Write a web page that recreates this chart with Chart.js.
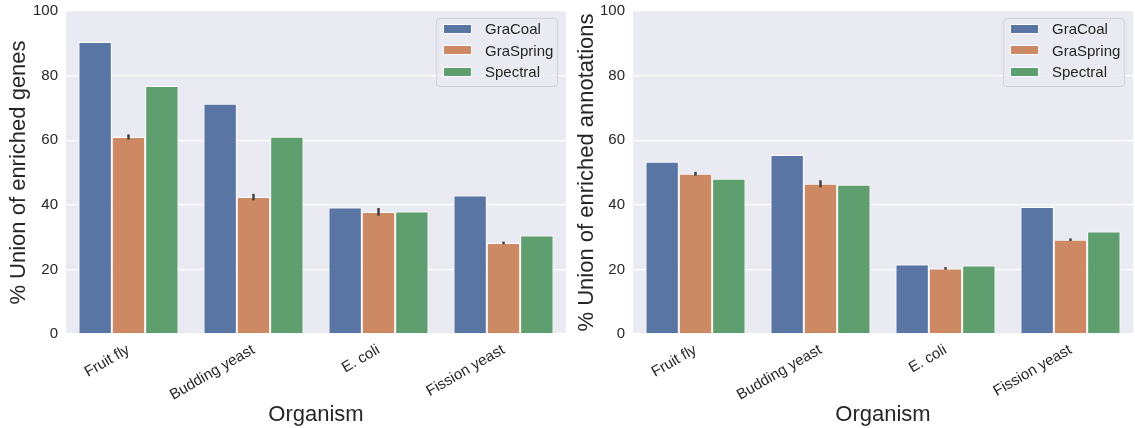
<!DOCTYPE html>
<html><head><meta charset="utf-8">
<script src="https://cdn.jsdelivr.net/npm/chart.js@4.4.0/dist/chart.umd.min.js"></script>
<style>
html,body{margin:0;padding:0;background:#fff;width:1135px;height:428px;overflow:hidden;font-family:"Liberation Sans",Arial,sans-serif;}
.wrap{position:absolute;top:0;height:428px;}
#w1{left:0;width:570px}
#w2{left:570px;width:565px}
.legend{position:absolute;background:rgba(234,234,242,0.8);border:1px solid #d2d2d8;border-radius:4px;box-sizing:border-box;width:122px;height:69px;}
.row{position:absolute;left:6px;height:22px;display:flex;align-items:center;font-size:15px;color:#262626;white-space:nowrap;}
.sw{width:29px;height:10px;box-sizing:border-box;border:1px solid #fff;margin-right:13px;}
</style>
</head><body>
<div class="wrap" id="w1"><canvas id="c1" width="570" height="428"></canvas></div>
<div class="wrap" id="w2"><canvas id="c2" width="565" height="428"></canvas></div>
<script>
const categories = ["Fruit fly", "Budding yeast", "E. coli", "Fission yeast"];
const methods = ["GraCoal", "GraSpring", "Spectral"];
const methodColors = ["#5975a4", "#cc8963", "#5f9e6e"];

const genesGraCoal   = [90.4, 71.3, 39.2, 42.9];
const genesGraSpring = [61.0, 42.4, 37.8, 28.2];
const genesSpectral  = [76.8, 61.1, 37.9, 30.5];
const genesGraSpringErr = [0.8, 1.0, 1.2, 0.4];

const annotGraCoal   = [53.3, 55.4, 21.5, 39.3];
const annotGraSpring = [49.6, 46.5, 20.3, 29.2];
const annotSpectral  = [48.1, 46.2, 21.2, 31.7];
const annotGraSpringErr = [0.6, 1.1, 0.4, 0.4];

const yTicks = [0, 20, 40, 60, 80, 100];

Chart.defaults.font.family = "'Liberation Sans', Arial, sans-serif";
Chart.defaults.color = '#262626';

const bgPlugin = {
  id: 'bg',
  beforeDraw(chart) {
    const {ctx, chartArea: a} = chart;
    ctx.save();
    ctx.fillStyle = '#eaeaf2';
    ctx.fillRect(a.left, a.top, a.right - a.left, a.bottom - a.top);
    ctx.restore();
  }
};

const errPlugin = {
  id: 'err',
  afterDatasetsDraw(chart) {
    const {ctx} = chart;
    const ys = chart.scales.y;
    chart.data.datasets.forEach((ds, i) => {
      if (!ds.err) return;
      const meta = chart.getDatasetMeta(i);
      meta.data.forEach((bar, j) => {
        const v = ds.data[j], e = ds.err[j];
        ctx.save();
        ctx.strokeStyle = '#424242';
        ctx.lineWidth = 2.5;
        ctx.beginPath();
        ctx.moveTo(bar.x, ys.getPixelForValue(v - e));
        ctx.lineTo(bar.x, ys.getPixelForValue(v + e));
        ctx.stroke();
        ctx.restore();
      });
    });
  }
};

function makeChart(canvasId, wrapId, yTitle, vals, errs, yWidth, padRight, titlePad) {
  const datasets = methods.map((m, i) => ({
    label: m,
    data: vals[i],
    err: i === 1 ? errs : null,
    backgroundColor: methodColors[i],
    borderColor: '#ffffff',
    borderWidth: 1,
    borderSkipped: 'bottom',
    categoryPercentage: 0.8,
    barPercentage: 1.0
  }));
  const chart = new Chart(document.getElementById(canvasId), {
    type: 'bar',
    data: {labels: categories, datasets},
    options: {
      responsive: false,
      animation: false,
      layout: {padding: {top: 11, right: padRight, left: 0, bottom: 0}},
      plugins: {legend: {display: false}, tooltip: {enabled: false}},
      scales: {
        x: {
          grid: {display: false, drawTicks: false},
          border: {display: false},
          ticks: {font: {size: 15}, maxRotation: 30, minRotation: 30, autoSkip: false, padding: 7, color: '#262626'},
          title: {display: true, text: 'Organism', font: {size: 22}, padding: {top: 0, bottom: 0}, color: '#262626'},
          afterFit(s) { s.height = 94; s.paddingLeft = 0; s.paddingRight = 0; }
        },
        y: {
          min: 0, max: 100,
          grid: {color: '#ffffff', lineWidth: 1.3, drawTicks: false},
          border: {display: false},
          ticks: {font: {size: 15}, padding: 8, color: '#262626'},
          afterBuildTicks(s) { s.ticks = yTicks.map(v => ({value: v})); },
          title: {display: true, text: yTitle, font: {size: 22}, padding: {top: titlePad, bottom: 0}, color: '#262626'},
          afterFit(s) { s.width = yWidth; s.paddingTop = 0; s.paddingBottom = 0; }
        }
      }
    },
    plugins: [bgPlugin, errPlugin]
  });
  const ca = chart.chartArea;
  const lg = document.createElement('div');
  lg.className = 'legend';
  lg.style.left = (ca.right - 8 - 122) + 'px';
  lg.style.top = (ca.top + 6.5) + 'px';
  methods.forEach((m, i) => {
    const r = document.createElement('div');
    r.className = 'row';
    r.style.top = (-1 + i * 21.5) + 'px';
    const sw = document.createElement('div');
    sw.className = 'sw';
    sw.style.background = methodColors[i];
    const t = document.createElement('span');
    t.textContent = m;
    r.appendChild(sw); r.appendChild(t);
    lg.appendChild(r);
  });
  document.getElementById(wrapId).appendChild(lg);
  return chart;
}

makeChart('c1', 'w1', '% Union of enriched genes', [genesGraCoal, genesGraSpring, genesSpectral], genesGraSpringErr, 66, 4, 6);
makeChart('c2', 'w2', '% Union of enriched annotations', [annotGraCoal, annotGraSpring, annotSpectral], annotGraSpringErr, 63, 2, 4);
</script>
</body></html>
